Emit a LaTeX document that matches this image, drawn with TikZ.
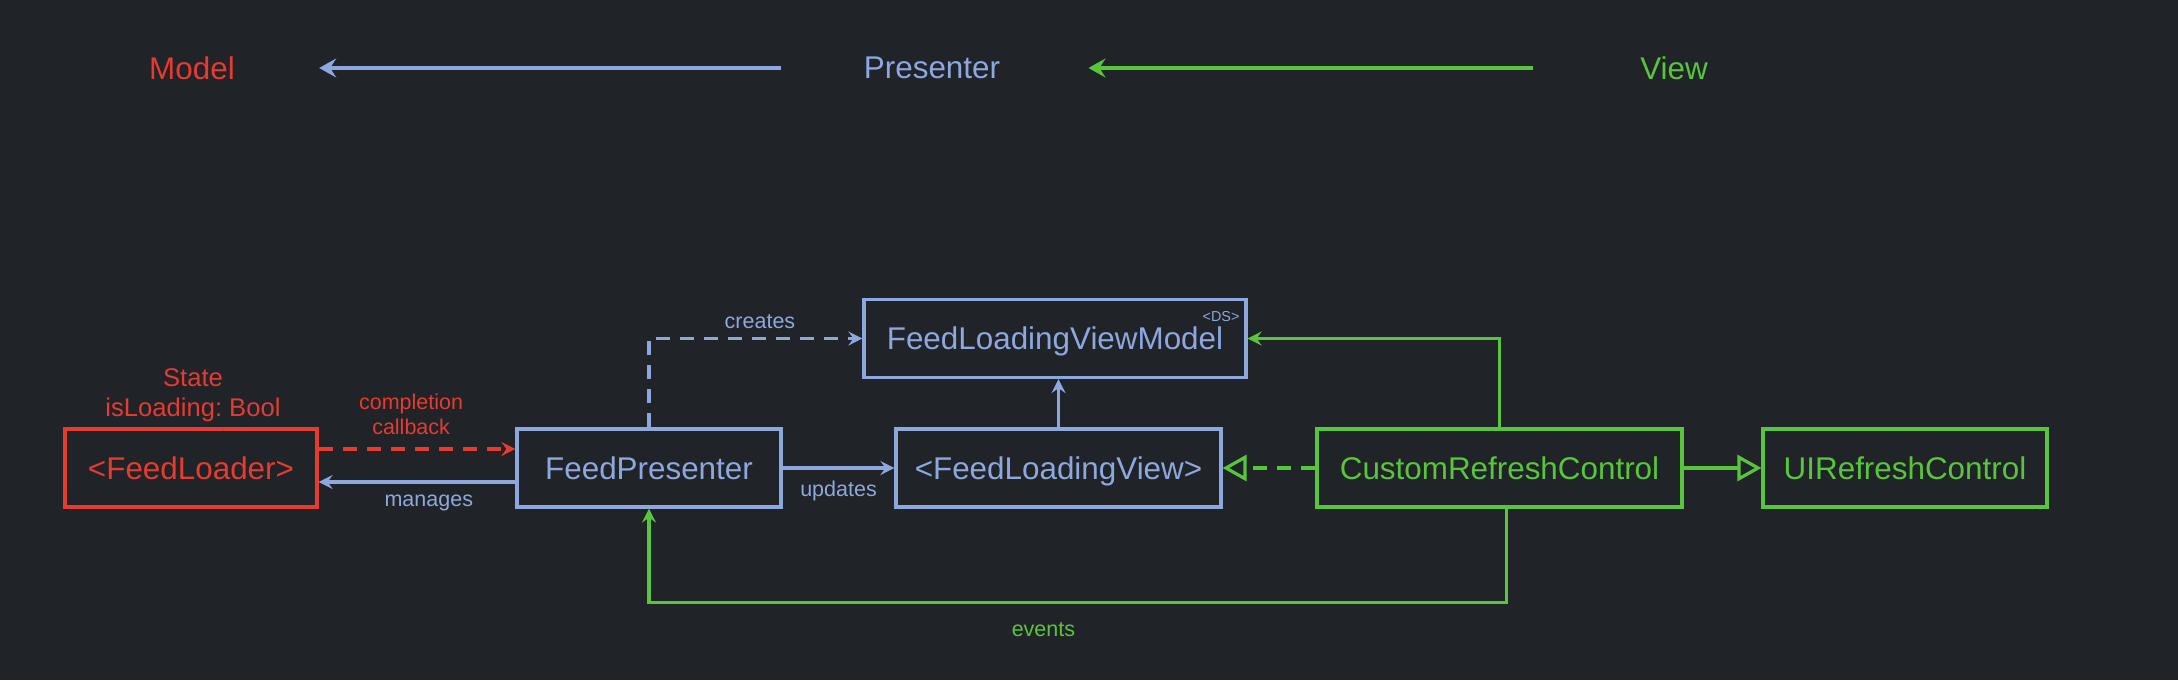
\documentclass[tikz,border=0pt]{standalone}
\usepackage{fontspec}
\setmainfont{Liberation Sans}
\usetikzlibrary{arrows.meta}
\frenchspacing

\definecolor{bgdark}{HTML}{202328}
\definecolor{mred}{HTML}{E63B2E}
\definecolor{pblue}{HTML}{8CA8DE}
\definecolor{vgreen}{HTML}{58C63A}

\begin{document}
\begin{tikzpicture}[x=0.5pt, y=-0.5pt,
  umlbox/.style={draw, line width=1.6pt, minimum height=39pt, inner sep=0pt, text height=11.2pt, text depth=0pt, font=\fontsize{15.7}{18}\selectfont},
  hdrlabel/.style={inner sep=0pt, font=\fontsize{15.7}{18}\selectfont},
  smalllabel/.style={inner sep=1pt, align=center, font=\fontsize{10.75}{12.5}\selectfont},
  hdrarrow/.style={line width=2pt, -{Stealth[length=8.5pt, width=9.5pt, inset=3pt]}},
  assoc/.style={line width=1.6pt, -{Stealth[length=7pt, width=7pt, inset=2.5pt]}},
  dashlink/.style={dash pattern=on 7pt off 5pt},
  realize/.style={line width=1.6pt, -{Triangle[open, length=12pt, width=13pt, line width=1.6pt]}}]

\fill[bgdark] (0, 0) rectangle (2178, 680);
\useasboundingbox (0, 0) rectangle (2178, 680);

\node[hdrlabel, text=mred] (model title) at (192, 68) {Model};
\node[hdrlabel, text=pblue] (presenter title) at (932, 68) {Presenter};
\node[hdrlabel, text=vgreen] (view title) at (1674, 68) {View};

\draw[hdrarrow, color=pblue, shorten <=41.5pt, shorten >=42pt] (presenter title) -- (model title);
\draw[hdrarrow, color=vgreen, shorten <=53.5pt, shorten >=44pt] (view title) -- (presenter title);

\node[umlbox, color=mred, minimum width=126pt] (feed loader) at (191, 468) {<FeedLoader>};
\node[umlbox, color=pblue, minimum width=132pt] (feed presenter) at (649, 468) {FeedPresenter};
\node[umlbox, color=pblue, minimum width=191pt] (view model) at (1055, 338.5) {FeedLoadingViewModel};
\node[umlbox, color=pblue, minimum width=162.5pt] (loading view) at (1058.5, 468) {<FeedLoadingView>};
\node[umlbox, color=vgreen, minimum width=182.5pt] (custom refresh) at (1499.5, 468) {CustomRefreshControl};
\node[umlbox, color=vgreen, minimum width=142pt] (ui refresh) at (1905, 468) {UIRefreshControl};

\node[inner sep=0pt, text=pblue, font=\fontsize{7.2}{8}\selectfont] (ds tag) at (1221, 317) {<DS>};
\node[smalllabel, text=mred, font=\fontsize{12.8}{15}\selectfont] (loader state) at (193, 395) {State\\isLoading: Bool};

\draw[assoc, dashlink, color=mred] ([yshift=9.5pt]feed loader.east) -- ([yshift=9.5pt]feed presenter.west)
  node[smalllabel, pos=0.47, above=5.5pt, text=mred] (completion label) {completion\\callback};
\draw[assoc, color=pblue] ([yshift=-7pt]feed presenter.west) -- ([yshift=-7pt]feed loader.east)
  node[smalllabel, pos=0.44, below=4.5pt, text=pblue] (manages label) {manages};
\draw[assoc, color=pblue] (feed presenter.east) -- (loading view.west)
  node[smalllabel, midway, below=4.5pt, text=pblue] (updates label) {updates};
\draw[assoc, dashlink, color=pblue] (feed presenter.north) |- (view model.west)
  node[smalllabel, pos=0.76, above=3pt, text=pblue] (creates label) {creates};
\draw[assoc, color=pblue] (loading view.north) -- (loading view.north |- view model.south);

\draw[assoc, color=vgreen] (custom refresh.north) |- (view model.east);
\draw[realize, dashlink, color=vgreen] (custom refresh.west) -- (loading view.east);
\draw[realize, color=vgreen] (custom refresh.east) -- (ui refresh.west);
\draw[assoc, color=vgreen] ([xshift=3.5pt]custom refresh.south) -- ++(0, 94) -| (feed presenter.south)
  node[smalllabel, pos=0.27, below=8pt, text=vgreen] (events label) {events};

\end{tikzpicture}
\end{document}
